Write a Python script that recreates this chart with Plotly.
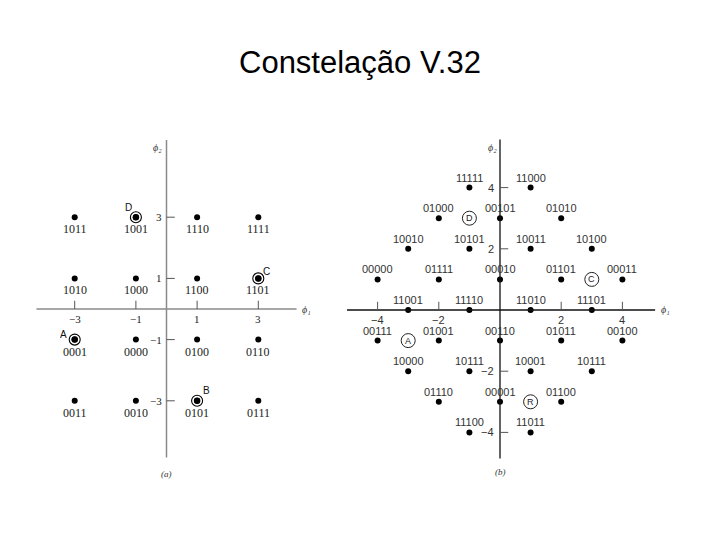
import plotly.graph_objects as go

# ---------------- data: (a) 16-point constellation ----------------
a_x = [-3, -1, 1, 3, -3, -1, 1, 3, -3, -1, 1, 3, -3, -1, 1, 3]
a_y = [3, 3, 3, 3, 1, 1, 1, 1, -1, -1, -1, -1, -3, -3, -3, -3]
a_labels = ["1011", "1001", "1110", "1111",
            "1010", "1000", "1100", "1101",
            "0001", "0000", "0100", "0110",
            "0011", "0010", "0101", "0111"]
a_mark_x = [-1, 3, -3, 1]
a_mark_y = [3, 1, -1, -3]
a_mark_letters = ["D", "C", "A", "B"]
a_ticks_x = [-3, -1, 1, 3]
a_ticks_y = [3, 1, -1, -3]
a_tick_text_x = ["\u22123", "\u22121", "1", "3"]
a_tick_text_y = ["3", "1", "\u22121", "\u22123"]

# ---------------- data: (b) 32-point V.32 constellation ----------------
b_x = [-1, 1,
       -2, 0, 2,
       -3, -1, 1, 3,
       -4, -2, 0, 2, 4,
       -3, -1, 1, 3,
       -4, -2, 0, 2, 4,
       -3, -1, 1, 3,
       -2, 0, 2,
       -1, 1]
b_y = [4, 4,
       3, 3, 3,
       2, 2, 2, 2,
       1, 1, 1, 1, 1,
       0, 0, 0, 0,
       -1, -1, -1, -1, -1,
       -2, -2, -2, -2,
       -3, -3, -3,
       -4, -4]
b_labels = ["11111", "11000",
            "01000", "00101", "01010",
            "10010", "10101", "10011", "10100",
            "00000", "01111", "00010", "01101", "00011",
            "11001", "11110", "11010", "11101",
            "00111", "01001", "00110", "01011", "00100",
            "10000", "10111", "10001", "10111",
            "01110", "00001", "01100",
            "11100", "11011"]
b_mark_x = [-1, 3, -3, 1]
b_mark_y = [3, 1, -1, -3]
b_mark_letters = ["D", "C", "A", "R"]
b_ticks_x = [-4, -2, 2, 4]
b_ticks_y = [4, 2, -2, -4]
b_tick_text_x = ["\u22124", "\u22122", "2", "4"]
b_tick_text_y = ["4", "2", "\u22122", "\u22124"]

TITLE = "Constelação V.32"

fig = go.Figure()

SERIF = "Liberation Serif, Times New Roman, serif"
SANS = "Liberation Sans, Arial, sans-serif"

# ---------- panel (a) ----------
fig.add_trace(go.Scatter(x=a_x, y=a_y, mode="markers",
                         marker=dict(size=6, color="black"),
                         xaxis="x", yaxis="y", hoverinfo="skip", showlegend=False))
fig.add_trace(go.Scatter(x=a_mark_x, y=a_mark_y, mode="markers",
                         marker=dict(size=11, color="black", symbol="circle-open",
                                     line=dict(width=1.1)),
                         xaxis="x", yaxis="y", hoverinfo="skip", showlegend=False))
fig.add_trace(go.Scatter(x=a_mark_x, y=a_mark_y, mode="markers",
                         marker=dict(size=6.5, color="black"),
                         xaxis="x", yaxis="y", hoverinfo="skip", showlegend=False))

# ---------- panel (b) ----------
fig.add_trace(go.Scatter(x=b_x, y=b_y, mode="markers",
                         marker=dict(size=6, color="black"),
                         xaxis="x2", yaxis="y2", hoverinfo="skip", showlegend=False))
fig.add_trace(go.Scatter(x=b_mark_x, y=b_mark_y, mode="markers",
                         marker=dict(size=14, color="#222", symbol="circle-open",
                                     line=dict(width=1)),
                         xaxis="x2", yaxis="y2", hoverinfo="skip", showlegend=False))

shapes = []
ann = []

# axes lines for (a)
A_XMIN, A_XMAX, A_YMIN, A_YMAX = -4.25, 4.25, -4.85, 5.52
shapes.append(dict(type="line", xref="x", yref="y", x0=A_XMIN, x1=A_XMAX, y0=0, y1=0,
                   line=dict(color="#8a8a8a", width=1.5)))
shapes.append(dict(type="line", xref="x", yref="y", x0=0, x1=0, y0=A_YMIN, y1=A_YMAX,
                   line=dict(color="#8a8a8a", width=1.5)))
for tx, tt in zip(a_ticks_x, a_tick_text_x):
    shapes.append(dict(type="line", xref="x", yref="y", x0=tx, x1=tx, y0=0, y1=0.27,
                       line=dict(color="#555", width=1)))
    ann.append(dict(x=tx, y=0, xref="x", yref="y", text=tt, showarrow=False, yshift=-10,
                    font=dict(family=SERIF, size=11, color="#222")))
for ty, tt in zip(a_ticks_y, a_tick_text_y):
    shapes.append(dict(type="line", xref="x", yref="y", x0=0, x1=0.27, y0=ty, y1=ty,
                       line=dict(color="#555", width=1)))
    ann.append(dict(x=0, y=ty, xref="x", yref="y", text=tt, showarrow=False,
                    xanchor="right", xshift=-3,
                    font=dict(family=SERIF, size=11, color="#222")))
for px, py, lab in zip(a_x, a_y, a_labels):
    ann.append(dict(x=px, y=py, xref="x", yref="y", text=lab, showarrow=False, yshift=-12,
                    font=dict(family=SERIF, size=12, color="#222")))
a_letter_shift = [(-7, 10), (8, 7), (-11, 5), (9, 10)]
for px, py, lab, (sx, sy) in zip(a_mark_x, a_mark_y, a_mark_letters, a_letter_shift):
    ann.append(dict(x=px, y=py, xref="x", yref="y", text=lab, showarrow=False,
                    xshift=sx, yshift=sy, font=dict(family=SANS, size=10, color="#111")))
ann.append(dict(x=0, y=A_YMAX, xref="x", yref="y", text="ϕ₂",
                showarrow=False, xshift=-9, yshift=-7,
                font=dict(family=SERIF, size=10, color="#333", style="italic")))
ann.append(dict(x=A_XMAX, y=0, xref="x", yref="y", text="ϕ₁",
                showarrow=False, xanchor="left", xshift=3, yshift=0,
                font=dict(family=SERIF, size=10, color="#333", style="italic")))
ann.append(dict(x=0, y=-5.4, xref="x", yref="y", text="(a)", showarrow=False,
                font=dict(family=SERIF, size=9, color="#333", style="italic")))

# axes lines for (b)
B_XMIN, B_XMAX, B_YMIN, B_YMAX = -5.0, 5.07, -4.85, 5.57
shapes.append(dict(type="line", xref="x2", yref="y2", x0=B_XMIN, x1=B_XMAX, y0=0, y1=0,
                   line=dict(color="#111", width=1.3)))
shapes.append(dict(type="line", xref="x2", yref="y2", x0=0, x1=0, y0=B_YMIN, y1=B_YMAX,
                   line=dict(color="#111", width=1.3)))
for tx, tt in zip(b_ticks_x, b_tick_text_x):
    shapes.append(dict(type="line", xref="x2", yref="y2", x0=tx, x1=tx, y0=0, y1=0.27,
                       line=dict(color="#555", width=1)))
    ann.append(dict(x=tx, y=0, xref="x2", yref="y2", text=tt, showarrow=False, yshift=-10,
                    font=dict(family=SANS, size=11, color="#333")))
for ty, tt in zip(b_ticks_y, b_tick_text_y):
    shapes.append(dict(type="line", xref="x2", yref="y2", x0=0, x1=0.27, y0=ty, y1=ty,
                       line=dict(color="#555", width=1)))
    ann.append(dict(x=0, y=ty, xref="x2", yref="y2", text=tt, showarrow=False,
                    xanchor="right", xshift=-4,
                    font=dict(family=SANS, size=11, color="#333")))
for px, py, lab in zip(b_x, b_y, b_labels):
    ann.append(dict(x=px, y=py, xref="x2", yref="y2", text=lab, showarrow=False, yshift=10,
                    font=dict(family=SANS, size=11, color="#333")))
for px, py, lab in zip(b_mark_x, b_mark_y, b_mark_letters):
    ann.append(dict(x=px, y=py, xref="x2", yref="y2", text=lab, showarrow=False,
                    font=dict(family=SANS, size=9, color="#222")))
ann.append(dict(x=0, y=B_YMAX, xref="x2", yref="y2", text="ϕ₂",
                showarrow=False, xshift=-8, yshift=-8,
                font=dict(family=SERIF, size=10, color="#333", style="italic")))
ann.append(dict(x=B_XMAX, y=0, xref="x2", yref="y2", text="ϕ₁",
                showarrow=False, xanchor="left", xshift=4, yshift=0,
                font=dict(family=SERIF, size=10, color="#333", style="italic")))
ann.append(dict(x=0, y=-5.3, xref="x2", yref="y2", text="(b)", showarrow=False,
                font=dict(family=SERIF, size=9, color="#333", style="italic")))

# title
ann.append(dict(x=0.5, y=1 - 62 / 540, xref="paper", yref="paper", text=TITLE,
                showarrow=False, xanchor="center", yanchor="middle",
                font=dict(family=SANS, size=31, color="black")))

hidden = dict(visible=False, showgrid=False, zeroline=False, fixedrange=True)
fig.update_layout(
    width=720, height=540,
    margin=dict(l=0, r=0, t=0, b=0),
    paper_bgcolor="white", plot_bgcolor="white",
    showlegend=False,
    xaxis=dict(domain=[13.5 / 720, 319.5 / 720], range=[-5, 5], **hidden),
    yaxis=dict(domain=[47.4 / 540, 414.6 / 540], range=[-6, 6], **hidden),
    xaxis2=dict(domain=[331.7 / 720, 668.3 / 720], range=[-5.5, 5.5], anchor="y2", **hidden),
    yaxis2=dict(domain=[46.4 / 540, 413.6 / 540], range=[-6, 6], anchor="x2", **hidden),
    shapes=shapes,
    annotations=ann,
)

fig.write_html("out.html", config={"displayModeBar": False},
               post_script="document.body.style.margin='0';")
